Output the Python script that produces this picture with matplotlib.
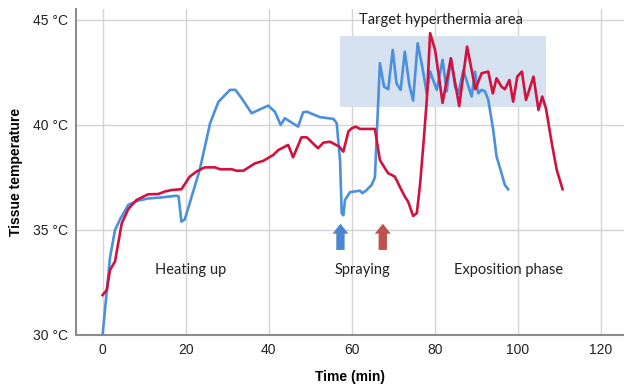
import matplotlib
matplotlib.use("Agg")
import matplotlib.pyplot as plt
from matplotlib.patches import Rectangle

# ---- data ----
blue_t = [0, 1.8, 3.0, 4.2, 6.2, 8.6, 11, 14.2, 17.8, 18.3, 19.0, 19.8, 23.4, 25.9, 27.9,
          30.7, 32.0, 33.5, 35.9, 39.9, 41.5, 42.9, 43.9, 47.1, 48.3, 49.2, 52.4, 55.6, 56.4,
          57.2, 57.6, 58.0, 58.4, 59.6, 62.0, 62.6, 63.6, 64.8, 65.6, 66.8, 67.8, 68.8, 69.9,
          70.8, 71.8, 72.8, 73.9, 74.8, 75.9, 77.0, 78.1, 78.9, 80.5, 81.9, 82.9, 83.9, 84.9,
          85.7, 86.9, 88.9, 89.7, 90.5, 91.3, 92.1, 92.9, 94.1, 94.9, 96.1, 96.9, 97.7]
blue_temp = [30.0, 33.7, 35.0, 35.5, 36.2, 36.4, 36.5, 36.55, 36.63, 36.6, 35.4, 35.5, 37.86,
             40.08, 41.1, 41.67, 41.67, 41.27, 40.56, 40.92, 40.63, 40.0, 40.32, 39.92, 40.6,
             40.63, 40.37, 40.29, 40.08, 38.33, 35.8, 35.7, 36.43, 36.8, 36.87, 36.75, 36.9,
             37.14, 37.5, 42.94, 41.82, 41.7, 43.57, 41.98, 41.67, 43.49, 41.9, 41.16, 43.89,
             42.78, 41.5, 42.54, 41.67, 43.1, 41.6, 43.17, 41.82, 41.5, 42.6, 41.35, 42.54,
             41.5, 41.67, 41.6, 41.2, 39.76, 38.5, 37.7, 37.14, 36.94]

red_t = [0, 1.0, 1.8, 3.0, 4.6, 6.2, 8.2, 11, 13.4, 15, 16.6, 19, 21, 22.6, 24.6, 27.1, 28.3,
         31.1, 32.3, 33.9, 36.7, 38.7, 41.1, 42.3, 44.7, 45.9, 47.9, 49.2, 51.9, 53.2, 54.8,
         57.0, 58.0, 59.2, 60.0, 61.0, 62.0, 65.6, 66.8, 68.0, 68.8, 69.6, 70.4, 71.2, 72.0,
         72.8, 73.6, 74.8, 75.7, 76.5, 77.3, 78.1, 78.9, 80.1, 80.9, 81.9, 83.9, 85.9, 87.8,
         89.8, 91.3, 92.9, 94.0, 94.9, 96.1, 96.9, 98.0, 98.9, 99.9, 101.0, 102.0, 103.8,
         105.0, 105.9, 106.8, 108.2, 109.4, 110.8]
red_temp = [31.9, 32.14, 33.1, 33.5, 35.3, 36.0, 36.43, 36.7, 36.71, 36.83, 36.9, 36.94, 37.54,
            37.78, 37.98, 37.98, 37.89, 37.89, 37.82, 37.82, 38.17, 38.29, 38.57, 38.8, 39.05,
            38.46, 39.41, 39.41, 38.89, 39.16, 39.2, 38.97, 38.73, 39.68, 39.84, 39.92, 39.81,
            39.81, 38.33, 37.94, 37.7, 37.62, 37.54, 37.22, 36.9, 36.59, 36.35, 35.67, 35.8,
            37.22, 39.13, 41.19, 44.37, 43.57, 42.46, 41.05, 43.17, 40.9, 43.73, 41.7, 42.46,
            42.54, 41.5, 42.22, 41.82, 41.7, 42.14, 41.11, 42.3, 42.54, 41.19, 42.3, 40.71,
            41.35, 40.79, 39.13, 37.86, 36.94]

x_ticks = [0, 20, 40, 60, 80, 100, 120]
y_ticks = [30, 35, 40, 45]
y_tick_labels = ["30 °C", "35 °C", "40 °C", "45 °C"]

target_area = (57.2, 106.8, 40.86, 44.24)   # t0, t1, T0, T1
spray_blue_t = 57.3
spray_red_t = 67.5

phase_labels = ["Heating up", "Spraying", "Exposition phase"]
phase_label_t = [21.3, 62.5, 97.7]

# ---- figure ----
fig = plt.figure(figsize=(6.24, 3.91), dpi=100)
ax = fig.add_axes([76/624, (391-335)/391, 1 - 76/624, (335-9)/391])
ax.set_xlim(-6.4, 125.6)
ax.set_ylim(30, 45.52)

ax.add_patch(Rectangle((target_area[0], target_area[2]),
                       target_area[1] - target_area[0], target_area[3] - target_area[2],
                       facecolor="#d7e2f0", edgecolor="none", zorder=1))

ax.plot(blue_t, blue_temp, color="#4a90dc", lw=1.9, zorder=3, solid_joinstyle="round")
ax.plot(red_t, red_temp, color="#d2123e", lw=1.9, zorder=4, solid_joinstyle="round")

ax.set_xticks(x_ticks)
ax.set_yticks(y_ticks)
ax.set_yticklabels(y_tick_labels)
ax.tick_params(length=0, labelsize=10, pad=6, labelcolor="#222222")
for lab in ax.get_xticklabels() + ax.get_yticklabels():
    lab.set_family("Liberation Sans")
ax.grid(True, color="#d4d4d4", lw=1.0, zorder=0)
ax.set_axisbelow(True)
for s in ["top", "right"]:
    ax.spines[s].set_visible(False)
for s in ["left", "bottom"]:
    ax.spines[s].set_color("#8c8c8c")
    ax.spines[s].set_linewidth(1.5)

ax.set_xlabel("Time (min)", fontsize=10, fontweight="bold", family="Liberation Sans", labelpad=9)
ax.set_ylabel("Tissue temperature", fontsize=10, fontweight="bold", family="Liberation Sans", labelpad=7)

for lab, t in zip(phase_labels, phase_label_t):
    ax.text(t, 33.1, lab, ha="center", va="center", fontsize=10.5, family="Lato", color="#222222")
ax.text(81.5, 45.0, "Target hyperthermia area", ha="center", va="center", fontsize=10.5,
        family="Lato", color="#222222")

for t, c in [(spray_blue_t, "#4a86cf"), (spray_red_t, "#c0504d")]:
    ax.annotate("", xy=(t, 35.3), xytext=(t, 34.05),
                arrowprops=dict(arrowstyle="simple,head_width=0.95,head_length=0.6,tail_width=0.5",
                                mutation_scale=12, color=c, shrinkA=0, shrinkB=0, lw=0))

fig.savefig("out.png", dpi=100)
